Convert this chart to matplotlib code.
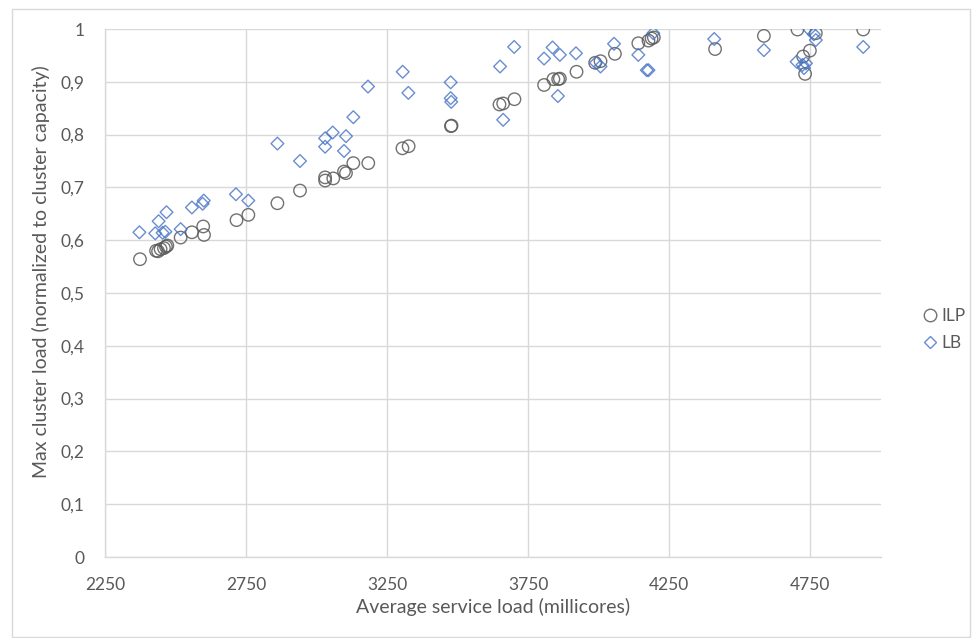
import numpy as np
import matplotlib
matplotlib.use("Agg")
import matplotlib.pyplot as plt
from matplotlib.ticker import FuncFormatter, MultipleLocator
from matplotlib.lines import Line2D
from matplotlib.patches import Rectangle

plt.rcParams['font.family'] = ['Lato', 'DejaVu Sans']

# ILP results: average service load (millicores) vs max cluster load
ilp_x = [2374, 2431, 2438, 2447, 2459, 2466, 2471, 2518, 2558, 2598, 2601, 2716,
         2758, 2861, 2941, 3030, 3030, 3059, 3097, 3104, 3130, 3183, 3304, 3326,
         3476, 3478, 3648, 3661, 3701, 3806, 3839, 3856, 3862, 3921, 3987, 4006,
         4057, 4140, 4176, 4187, 4195, 4412, 4585, 4704, 4724, 4731, 4748, 4769, 4937]
ilp_y = [0.564, 0.580, 0.579, 0.583, 0.585, 0.588, 0.590, 0.605, 0.615, 0.626, 0.610, 0.638,
         0.648, 0.670, 0.694, 0.719, 0.713, 0.717, 0.730, 0.727, 0.746, 0.746, 0.774, 0.778,
         0.816, 0.817, 0.857, 0.859, 0.867, 0.894, 0.905, 0.905, 0.906, 0.919, 0.936, 0.939,
         0.953, 0.973, 0.978, 0.982, 0.984, 0.962, 0.987, 0.999, 0.948, 0.915, 0.959, 0.992, 0.999]

# LB results
lb_x = [2372, 2428, 2440, 2454, 2464, 2468, 2518, 2558, 2596, 2600, 2714, 2758,
        2861, 2941, 3030, 3030, 3057, 3097, 3104, 3130, 3182, 3305, 3325, 3475,
        3475, 3477, 3650, 3661, 3700, 3806, 3836, 3855, 3862, 3919, 3990, 4006,
        4054, 4140, 4170, 4176, 4193, 4409, 4585, 4701, 4722, 4727, 4734, 4746,
        4762, 4769, 4937]
lb_y = [0.615, 0.613, 0.636, 0.614, 0.616, 0.653, 0.621, 0.662, 0.669, 0.675, 0.687, 0.675,
        0.783, 0.750, 0.793, 0.777, 0.804, 0.769, 0.797, 0.833, 0.891, 0.919, 0.879, 0.899,
        0.869, 0.862, 0.929, 0.828, 0.966, 0.944, 0.965, 0.873, 0.951, 0.954, 0.936, 0.929,
        0.972, 0.951, 0.922, 0.922, 0.992, 0.981, 0.960, 0.938, 0.932, 0.926, 0.935, 0.999,
        0.990, 0.979, 0.966]

ILP_COLOR = '#595959'
LB_COLOR = '#4472C4'
GRID = '#d9d9d9'
TEXT = '#595959'

fig = plt.figure(figsize=(9.72, 6.38), dpi=100)
ax = fig.add_axes([105 / 972, 81 / 638, 776 / 972, 528 / 638])

# light frame round the whole chart
fig.patches.append(Rectangle((12 / 972, 1 / 638), 958 / 972, 628 / 638,
                             transform=fig.transFigure, fill=False,
                             edgecolor=GRID, linewidth=1))

ax.scatter(ilp_x, ilp_y, s=80, marker='o', facecolors='none',
           edgecolors=ILP_COLOR, linewidths=1.0, alpha=0.85, zorder=3)
ax.scatter(lb_x, lb_y, s=42, marker='D', facecolors='none',
           edgecolors=LB_COLOR, linewidths=1.0, alpha=0.8, zorder=3)

ax.set_xlim(2250, 5000)
ax.set_ylim(0, 1)
ax.set_xticks(np.arange(2250, 5000, 500))
ax.yaxis.set_major_locator(MultipleLocator(0.1))
ax.yaxis.set_major_formatter(FuncFormatter(
    lambda v, p: '0' if abs(v) < 1e-9 else ('1' if abs(v - 1) < 1e-9 else f'{v:.1f}'.replace('.', ','))))

ax.grid(True, color=GRID, linewidth=1)
ax.set_axisbelow(True)
for side in ['top', 'right']:
    ax.spines[side].set_visible(False)
for side in ['left', 'bottom']:
    ax.spines[side].set_color(GRID)
    ax.spines[side].set_linewidth(1)

ax.tick_params(axis='both', length=0, labelsize=12.5, colors=TEXT)
ax.tick_params(axis='x', pad=14.5)
ax.tick_params(axis='y', pad=14.5)

ax.set_xlabel('Average service load (millicores)', fontsize=14, color=TEXT)
ax.set_ylabel('Max cluster load (normalized to cluster capacity)', fontsize=14, color=TEXT)
ax.xaxis.set_label_coords(0.5, -0.078)
ax.yaxis.set_label_coords(-0.0705, 0.54)

handles = [
    Line2D([], [], marker='o', linestyle='none', markersize=9, markerfacecolor='none',
           markeredgecolor=ILP_COLOR, markeredgewidth=1.0, alpha=0.85),
    Line2D([], [], marker='D', linestyle='none', markersize=6.5, markerfacecolor='none',
           markeredgecolor=LB_COLOR, markeredgewidth=1.0, alpha=0.8),
]
fig.legend(handles, ['ILP', 'LB'], loc='center left', bbox_to_anchor=(921 / 972, 1 - 329.5 / 638),
           frameon=False, fontsize=12.5, labelcolor=TEXT, handletextpad=0.2,
           handlelength=1.0, labelspacing=0.6, borderaxespad=0, borderpad=0)

fig.savefig('out.png', dpi=100)
